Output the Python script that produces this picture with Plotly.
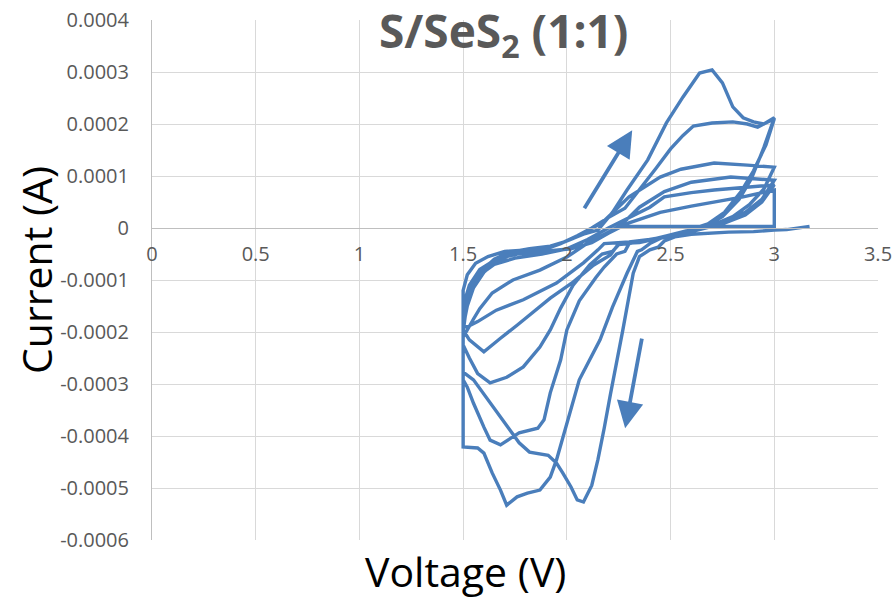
import plotly.graph_objects as go

# Cyclic voltammogram of the S/SeS2 (1:1) cathode, swept between 1.5 V and 3.0 V.
# Voltages in V, currents in units of 1e-4 A (converted to A when plotted).
I_UNIT = 1e-4

# cycle 1, cathodic sweep starting from open circuit
k1_v = [3.17, 3.12, 3.06, 3.00, 2.90, 2.78, 2.68, 2.60, 2.52, 2.47, 2.44, 2.40, 2.35, 2.32, 2.27, 2.24,
        2.21, 2.18, 2.15, 2.12, 2.08, 2.05, 2.02, 1.98, 1.95, 1.91, 1.82, 1.77, 1.68, 1.60, 1.55, 1.50]
k1_i = [0.03, 0.00, -0.03, -0.04, -0.07, -0.08, -0.10, -0.12, -0.17, -0.25, -0.37, -0.42, -0.55, -0.87, -1.96, -2.55,
        -3.20, -3.85, -4.45, -4.95, -5.27, -5.23, -4.98, -4.71, -4.52, -4.37, -4.31, -4.13, -3.63, -3.17, -2.92, -2.77]
# cycle 1, anodic sweep
a1_v = [1.50, 1.51, 1.53, 1.56, 1.60, 1.65, 1.72, 1.82, 1.92, 2.00, 2.08, 2.15, 2.22, 2.29, 2.39, 2.48,
        2.56, 2.64, 2.70, 2.75, 2.80, 2.85, 2.90, 2.95, 3.00]
a1_i = [-2.00, -1.70, -1.30, -1.00, -0.78, -0.60, -0.47, -0.40, -0.35, -0.25, -0.12, -0.04, 0.30, 0.73, 1.31, 2.02,
        2.52, 2.98, 3.04, 2.79, 2.33, 2.12, 2.04, 2.00, 2.12]

# cycle 2
k2_v = [3.00, 2.95, 2.89, 2.83, 2.75, 2.66, 2.55, 2.45, 2.40, 2.36, 2.34, 2.29, 2.22, 2.16, 2.06, 2.00,
        1.95, 1.92, 1.87, 1.81, 1.76, 1.71, 1.68, 1.64, 1.60, 1.57, 1.50]
k2_i = [2.12, 1.55, 0.95, 0.55, 0.22, 0.02, -0.10, -0.20, -0.30, -0.42, -0.45, -0.87, -1.52, -2.15, -2.92, -3.75,
        -4.46, -4.79, -5.04, -5.10, -5.17, -5.33, -5.04, -4.71, -4.33, -4.23, -4.21]
a2_v = [1.50, 1.52, 1.56, 1.62, 1.70, 1.80, 1.90, 1.97, 2.05, 2.12, 2.20, 2.28, 2.35, 2.43, 2.50, 2.56,
        2.61, 2.70, 2.80, 2.87, 2.92, 3.00]
a2_i = [-1.20, -0.90, -0.68, -0.55, -0.45, -0.42, -0.40, -0.30, -0.15, 0.00, 0.20, 0.38, 0.73, 1.15, 1.52, 1.78,
        1.96, 2.02, 2.04, 2.00, 1.94, 2.10]

# cycle 3
k3_v = [3.00, 2.96, 2.90, 2.84, 2.76, 2.68, 2.58, 2.48, 2.38, 2.30, 2.28, 2.24, 2.18, 2.14, 2.06, 2.00,
        1.97, 1.92, 1.89, 1.86, 1.77, 1.73, 1.68, 1.63, 1.60, 1.55, 1.52, 1.50]
k3_i = [2.10, 1.60, 1.10, 0.70, 0.30, 0.08, -0.05, -0.15, -0.25, -0.30, -0.45, -0.50, -0.75, -0.95, -1.40, -1.96,
        -2.54, -3.17, -3.69, -3.85, -3.94, -4.04, -4.17, -4.08, -3.83, -3.37, -3.06, -2.92]
a3_v = [1.50, 1.52, 1.55, 1.60, 1.66, 1.74, 1.85, 1.95, 2.03, 2.10, 2.17, 2.30, 2.45, 2.55, 2.71, 2.87, 3.00]
a3_i = [-1.90, -1.50, -1.15, -0.85, -0.65, -0.50, -0.42, -0.33, -0.20, -0.05, 0.10, 0.60, 0.98, 1.13, 1.25, 1.21, 1.17]

# cycle 4
k4_v = [3.00, 2.95, 2.88, 2.80, 2.70, 2.60, 2.50, 2.40, 2.30, 2.25, 2.22, 2.17, 2.11, 2.03, 1.97, 1.92,
        1.87, 1.79, 1.71, 1.63, 1.57, 1.53, 1.50]
k4_i = [1.17, 0.75, 0.45, 0.22, 0.05, -0.05, -0.15, -0.22, -0.30, -0.32, -0.45, -0.50, -0.71, -1.10, -1.54, -1.96,
        -2.29, -2.67, -2.87, -2.98, -2.80, -2.50, -2.25]
a4_v = [1.50, 1.52, 1.55, 1.58, 1.64, 1.74, 1.87, 2.00, 2.10, 2.19, 2.26, 2.35, 2.47, 2.60, 2.79, 3.00]
a4_i = [-2.10, -1.95, -1.75, -1.55, -1.25, -1.00, -0.81, -0.56, -0.29, -0.10, 0.05, 0.40, 0.70, 0.88, 0.98, 0.92]

# cycle 5
k5_v = [3.00, 2.94, 2.86, 2.76, 2.66, 2.55, 2.45, 2.35, 2.25, 2.22, 2.21, 2.13, 2.03, 1.92, 1.84, 1.76,
        1.68, 1.60, 1.53, 1.50]
k5_i = [0.92, 0.55, 0.30, 0.12, 0.00, -0.10, -0.20, -0.28, -0.30, -0.45, -0.52, -0.71, -1.04, -1.35, -1.62, -1.87,
        -2.12, -2.38, -2.15, -1.96]
a5_v = [1.50, 1.53, 1.58, 1.65, 1.75, 1.88, 2.00, 2.10, 2.20, 2.30, 2.40, 2.47, 2.60, 2.71, 2.85, 3.00]
a5_i = [-1.60, -1.20, -0.90, -0.70, -0.58, -0.50, -0.40, -0.22, 0.00, 0.20, 0.40, 0.60, 0.68, 0.73, 0.78, 0.83]

# cycle 6, ending with the return to rest
k6_v = [3.00, 2.94, 2.86, 2.75, 2.62, 2.50, 2.40, 2.30, 2.18, 2.15, 2.08, 1.95, 1.79, 1.66, 1.57, 1.52, 1.50]
k6_i = [0.83, 0.50, 0.25, 0.08, -0.05, -0.15, -0.22, -0.27, -0.30, -0.42, -0.67, -1.06, -1.38, -1.58, -1.80, -1.90, -1.90]
a6_v = [1.50, 1.53, 1.58, 1.66, 1.76, 1.90, 2.02, 2.12, 2.20, 2.30, 2.45, 2.60, 2.71, 2.85, 3.00, 3.00, 2.26]
a6_i = [-1.50, -1.10, -0.80, -0.60, -0.50, -0.45, -0.40, -0.28, -0.10, 0.10, 0.30, 0.42, 0.50, 0.60, 0.73, 0.03, 0.03]

# scan-direction arrows: (tail V, tail I, head V, head I)
arrow_up = (2.08, 0.35, 2.315, 1.88)
arrow_down = (2.363, -2.10, 2.281, -3.85)

x_ticks = [0, 0.5, 1, 1.5, 2, 2.5, 3, 3.5]
x_tick_text = ["0", "0.5", "1", "1.5", "2", "2.5", "3", "3.5"]
y_ticks = [-0.0006, -0.0005, -0.0004, -0.0003, -0.0002, -0.0001, 0, 0.0001, 0.0002, 0.0003, 0.0004]
y_tick_text = ["-0.0006", "-0.0005", "-0.0004", "-0.0003", "-0.0002", "-0.0001", "0",
               "0.0001", "0.0002", "0.0003", "0.0004"]

sweeps = [(k1_v, k1_i), (a1_v, a1_i), (k2_v, k2_i), (a2_v, a2_i), (k3_v, k3_i), (a3_v, a3_i),
          (k4_v, k4_i), (a4_v, a4_i), (k5_v, k5_i), (a5_v, a5_i), (k6_v, k6_i), (a6_v, a6_i)]
volts, amps = [], []
for v, i in sweeps:
    volts += v
    amps += [c * I_UNIT for c in i]

BLUE = "#4a7ebb"
GRID = "#d9d9d9"
TICK = "#595959"
FONT = "Open Sans"

# plot area in pixels
PL, PR, PT, PB = 152, 878, 20, 540


def px_x(p):
    return (p - PL) / (PR - PL)


def px_y(p):
    return (PB - p) / (PB - PT)


fig = go.Figure()
fig.add_trace(go.Scatter(x=volts, y=amps, mode="lines",
                         line=dict(color=BLUE, width=3.4), showlegend=False, hoverinfo="skip"))

for tv, ti, hv, hi in (arrow_up, arrow_down):
    fig.add_annotation(x=hv, y=hi * I_UNIT, ax=tv, ay=ti * I_UNIT, xref="x", yref="y",
                       axref="x", ayref="y", text="", showarrow=True,
                       arrowhead=2, arrowsize=1.4, arrowwidth=3.8, arrowcolor=BLUE)

fig.add_annotation(text="<b>S/SeS<sub>2</sub> (1:1)</b>", x=px_x(503), y=px_y(33),
                   xref="paper", yref="paper", xanchor="center", yanchor="middle",
                   showarrow=False, font=dict(family=FONT, size=46, color=TICK))
fig.add_annotation(text="Current (A)", x=px_x(36), y=px_y(270), xref="paper", yref="paper",
                   xanchor="center", yanchor="middle", showarrow=False, textangle=-90,
                   font=dict(family=FONT, size=41, color="black"))
fig.add_annotation(text="Voltage (V)", x=px_x(465), y=px_y(571), xref="paper", yref="paper",
                   xanchor="center", yanchor="middle", showarrow=False,
                   font=dict(family=FONT, size=41, color="black"))

fig.update_layout(
    width=894, height=600,
    margin=dict(l=PL, r=894 - PR, t=PT, b=600 - PB, autoexpand=False),
    paper_bgcolor="white", plot_bgcolor="white",
    font=dict(family=FONT, color=TICK),
    xaxis=dict(range=[0, 3.5], tickvals=x_ticks, ticktext=x_tick_text, automargin=False,
               showgrid=True, gridcolor=GRID, gridwidth=1, zeroline=False,
               showline=True, linecolor="#bfbfbf", linewidth=1,
               anchor="free", position=0.6, ticks="", ticklabelstandoff=8,
               tickfont=dict(family=FONT, size=20, color=TICK)),
    yaxis=dict(range=[-0.0006, 0.0004], tickvals=y_ticks, ticktext=y_tick_text, automargin=False,
               showgrid=True, gridcolor=GRID, gridwidth=1, zeroline=False,
               showline=True, linecolor="#bfbfbf", linewidth=1,
               ticks="", ticklabelstandoff=18,
               tickfont=dict(family=FONT, size=20, color=TICK)),
)

fig.write_html("out.html")
